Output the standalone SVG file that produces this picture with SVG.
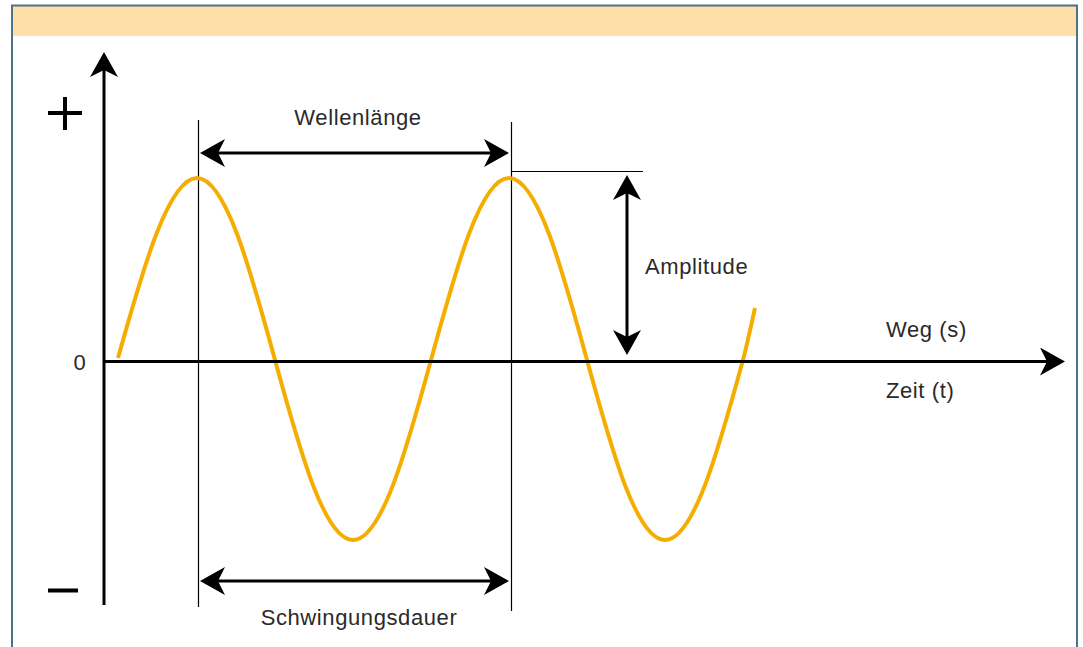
<svg xmlns="http://www.w3.org/2000/svg" width="1083" height="647" viewBox="0 0 1083 647">
<defs>
<style>
.lbl{font-family:"Liberation Sans",Arial,sans-serif;font-size:22px;letter-spacing:0.6px;fill:#2a2a2a}
.ax{stroke:#000;stroke-width:3;fill:none}
.thin{stroke:#000;stroke-width:1.2;fill:none}
.dim{stroke:#000;stroke-width:3;fill:none;marker-start:url(#ah);marker-end:url(#ah)}
</style>
<marker id="ah" markerUnits="userSpaceOnUse" viewBox="0 0 26 28" markerWidth="26" markerHeight="28" refX="10" refY="14" orient="auto-start-reverse">
<path d="M0,0 L25,14 L0,28 L7,14 Z" fill="#000"/>
</marker>
</defs>
<rect width="1083" height="647" fill="#fff"/>
<g id="frame">
<rect x="12" y="6" width="1065" height="30" fill="#fddfa7"/>
<path d="M12,660 V5.5 H1077 V660" fill="none" stroke="#4d7389" stroke-width="2"/>
</g>
<g id="guides">
<line class="thin" x1="198.5" y1="120" x2="198.5" y2="607"/>
<line class="thin" x1="511.5" y1="122" x2="511.5" y2="611"/>
<line class="thin" x1="511" y1="171.5" x2="643" y2="171.5"/>
</g>
<g id="wave">
<path d="M118,358 C143.44,266.8 168.77,178 197,178 C225.23,178 249.56,266.8 275,360 C300.44,453.2 324.77,540 353,540 C381.23,540 405.56,453.2 431,360 C456.44,266.8 480.77,178 509,178 C537.23,178 561.56,266.8 587,360 C612.44,453.2 636.77,540 665,540 C693.23,540 717.56,453.2 743,360 C747,345 751,326 755,308" fill="none" stroke="#f5ae00" stroke-width="4"/>
</g>
<g id="axes">
<path class="ax" d="M104,605 V67" marker-end="url(#ah)"/>
<path class="ax" d="M104,361.5 H1050" marker-end="url(#ah)"/>
<path d="M48,113 H82 M65,97 V130" stroke="#000" stroke-width="4" fill="none"/>
<path d="M48,590.5 H78" stroke="#000" stroke-width="4" fill="none"/>
<text class="lbl" x="80" y="370" text-anchor="middle">0</text>
<text class="lbl" x="886" y="337">Weg (s)</text>
<text class="lbl" x="886" y="398">Zeit (t)</text>
</g>
<g id="wellenlaenge">
<path class="dim" d="M215,153 H494"/>
<text class="lbl" x="358" y="125" text-anchor="middle">Wellenlänge</text>
</g>
<g id="schwingungsdauer">
<path class="dim" d="M215,581 H494"/>
<text class="lbl" x="359" y="625" text-anchor="middle">Schwingungsdauer</text>
</g>
<g id="amplitude">
<path class="dim" d="M627,190 V340"/>
<text class="lbl" x="645" y="274">Amplitude</text>
</g>
</svg>
